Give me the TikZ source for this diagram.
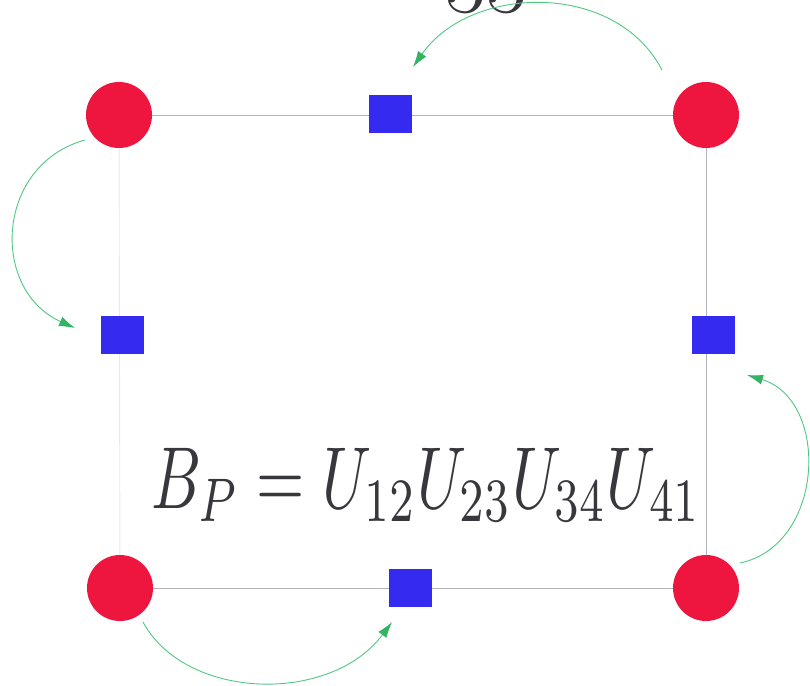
\documentclass[tikz,border=0pt]{standalone}
\usetikzlibrary{arrows.meta,backgrounds}
\definecolor{dotred}{RGB}{238,22,62}
\definecolor{sqblue}{RGB}{52,42,240}
\definecolor{arcgreen}{RGB}{80,200,130}
\definecolor{tipgreen}{RGB}{50,180,100}
\definecolor{edgegray}{RGB}{178,178,190}
\definecolor{faintgray}{RGB}{232,232,238}
\definecolor{textgray}{RGB}{55,55,60}
\tikzset{
  site/.style={circle,fill=dotred,minimum width=65pt,minimum height=66pt,inner sep=0pt},
  link/.style={rectangle,fill=sqblue,minimum width=43pt,minimum height=38pt,inner sep=0pt},
  edge/.style={draw=edgegray,line width=0.9pt},
  faintedge/.style={draw=faintgray,line width=0.9pt},
  hop/.style={draw=arcgreen,line width=0.9pt,-{Latex[length=16pt,width=10pt,color=tipgreen]}},
}
\begin{document}
\begin{tikzpicture}[x=1pt,y=-1pt]
\useasboundingbox (0,0) rectangle (810,685);
\clip (0,0) rectangle (810,685);
% partially visible text at top
\node[anchor=base,inner sep=0pt,text=textgray,font=\fontsize{88}{90}\selectfont] (toptext) at (486,13) {33};
% sites
\node[site] (TL) at (119,115) {};
\node[site] (TR) at (706,115) {};
\node[site] (BL) at (120,588) {};
\node[site] (BR) at (706,588) {};
% links
\node[link] (LT) at (390,114) {};
\node[link] (LL) at (122,335) {};
\node[link] (LR) at (713,335) {};
\node[link] (LB) at (410,588) {};
\begin{scope}[on background layer]
  \draw[edge] (TL) -- (TR);
  \draw[edge] (BL) -- (BR);
  \draw[edge] (TR) -- (BR);
  \draw[faintedge] (TL) -- (BL);
\end{scope}
% formula
\node[anchor=base west,inner sep=0pt,text=textgray,xscale=6.2,yscale=8.8] (formula) at (150,508) {$B_P=U_{12}U_{23}U_{34}U_{41}$};
% arrow endpoints
\coordinate (a1s) at (662,70);  \coordinate (a1e) at (413,67);
\coordinate (a2s) at (85,140);  \coordinate (a2e) at (75,328);
\coordinate (a3s) at (143,622); \coordinate (a3e) at (392,622);
\coordinate (a4s) at (740,563); \coordinate (a4e) at (747,375);
\draw[hop] (a1s) .. controls (615,-20) and (470,-15) .. (a1e);
\draw[hop] (a2s) .. controls (-5,165) and (-10,290) .. (a2e);
\draw[hop] (a3s) .. controls (185,700) and (330,705) .. (a3e);
\draw[hop] (a4s) .. controls (825,545) and (830,400) .. (a4e);
\end{tikzpicture}
\end{document}
